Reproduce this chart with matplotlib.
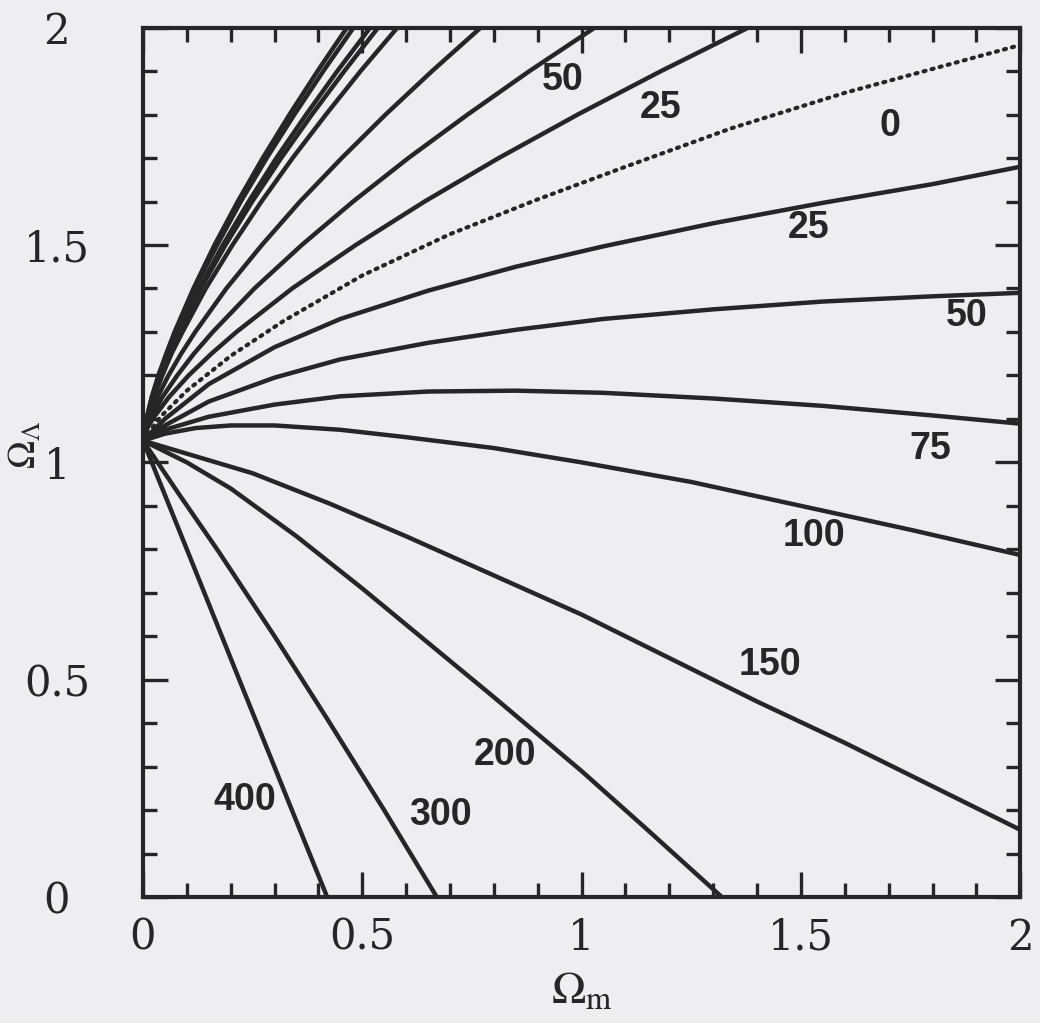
import matplotlib
matplotlib.use('Agg')
import matplotlib.pyplot as plt
from matplotlib.ticker import MultipleLocator

plt.rcParams['mathtext.fontset'] = 'stix'

# curves in the (Omega_m, Omega_Lambda) plane, all fanning out of (0, 1.05)
# labelled family below the dotted 0 curve
lo_25_x = [0, 0.05, 0.15, 0.3, 0.45, 0.65, 0.85, 1.05, 1.3, 1.55, 1.8, 2.0]
lo_25_y = [1.05, 1.10, 1.18, 1.265, 1.33, 1.395, 1.45, 1.497, 1.55, 1.597, 1.64, 1.68]
lo_50_x = [0, 0.05, 0.15, 0.3, 0.45, 0.65, 0.85, 1.05, 1.3, 1.55, 1.8, 2.0]
lo_50_y = [1.05, 1.085, 1.14, 1.195, 1.237, 1.275, 1.305, 1.33, 1.352, 1.37, 1.382, 1.39]
lo_75_x = [0, 0.05, 0.15, 0.3, 0.45, 0.65, 0.85, 1.05, 1.3, 1.55, 1.8, 2.0]
lo_75_y = [1.05, 1.075, 1.105, 1.133, 1.152, 1.163, 1.165, 1.16, 1.147, 1.13, 1.108, 1.089]
lo_100_x = [0, 0.05, 0.12, 0.2, 0.3, 0.45, 0.6, 0.8, 1.0, 1.25, 1.5, 1.75, 2.0]
lo_100_y = [1.05, 1.066, 1.079, 1.085, 1.085, 1.075, 1.058, 1.033, 1.0, 0.955, 0.9, 0.845, 0.787]
lo_150_x = [0, 0.1, 0.25, 0.426, 0.6, 0.8, 1.0, 1.2, 1.4, 1.6, 1.8, 2.0]
lo_150_y = [1.05, 1.02, 0.975, 0.905, 0.83, 0.74, 0.65, 0.55, 0.45, 0.355, 0.255, 0.155]
lo_200_x = [0, 0.1, 0.2, 0.35, 0.5, 0.65, 0.8, 1.0, 1.15, 1.32]
lo_200_y = [1.05, 1.0, 0.94, 0.83, 0.71, 0.585, 0.46, 0.29, 0.155, 0.0]
lo_300_x = [0, 0.08, 0.173, 0.3, 0.42, 0.55, 0.67]
lo_300_y = [1.05, 0.93, 0.794, 0.60, 0.41, 0.20, 0.0]
lo_400_x = [0, 0.1, 0.226, 0.33, 0.42]
lo_400_y = [1.05, 0.80, 0.484, 0.224, 0.0]

# the dotted zero curve
zero_x = [0, 0.04, 0.1, 0.2, 0.32, 0.5, 0.7, 0.9, 1.1, 1.34, 1.6, 1.8, 2.0]
zero_y = [1.05, 1.105, 1.165, 1.245, 1.325, 1.43, 1.525, 1.605, 1.68, 1.768, 1.85, 1.905, 1.96]

# family above the dotted curve, sampled at fixed Omega_Lambda
up_y = [1.05, 1.075, 1.10, 1.15, 1.20, 1.25, 1.30, 1.40, 1.50, 1.60, 1.70, 1.80, 1.90, 2.0]
up_25_x = [0, 0.008, 0.022, 0.059, 0.104, 0.156, 0.213, 0.340, 0.485, 0.642, 0.811, 0.991, 1.181, 1.38]
up_50_x = [0, 0.006, 0.017, 0.044, 0.078, 0.116, 0.159, 0.254, 0.362, 0.479, 0.605, 0.740, 0.881, 1.03]
up_75_x = [0, 0.005, 0.013, 0.033, 0.058, 0.087, 0.119, 0.190, 0.271, 0.358, 0.453, 0.553, 0.659, 0.77]
up_100_x = [0, 0.004, 0.009, 0.025, 0.044, 0.065, 0.090, 0.143, 0.204, 0.270, 0.341, 0.417, 0.496, 0.58]
up_150_x = [0, 0.003, 0.009, 0.023, 0.041, 0.061, 0.083, 0.132, 0.188, 0.249, 0.315, 0.385, 0.459, 0.536]
up_200_x = [0, 0.003, 0.008, 0.022, 0.039, 0.058, 0.080, 0.128, 0.182, 0.241, 0.304, 0.372, 0.443, 0.518]
up_300_x = [0, 0.003, 0.008, 0.020, 0.036, 0.054, 0.074, 0.118, 0.169, 0.223, 0.282, 0.345, 0.411, 0.48]
up_400_x = [0, 0.003, 0.008, 0.020, 0.035, 0.053, 0.072, 0.115, 0.163, 0.216, 0.273, 0.334, 0.398, 0.465]

# curve labels and where they sit
label_text = ['400', '300', '200', '150', '100', '75', '50', '25', '0', '25', '50']
label_x = [0.233, 0.677, 0.826, 1.43, 1.53, 1.795, 1.877, 1.517, 1.704, 1.179, 0.956]
label_y = [0.224, 0.19, 0.328, 0.535, 0.83, 1.03, 1.336, 1.539, 1.774, 1.815, 1.88]

bg = '#eeedf0'
ink = '#262626'

fig = plt.figure(figsize=(10.4, 10.23), dpi=100, facecolor=bg)
ax = fig.add_axes([0.1375, 0.123, 0.8435, 0.85])
ax.set_facecolor(bg)

lw = 3.2
for xs, ys in [(lo_25_x, lo_25_y), (lo_50_x, lo_50_y), (lo_75_x, lo_75_y),
               (lo_100_x, lo_100_y), (lo_150_x, lo_150_y), (lo_200_x, lo_200_y),
               (lo_300_x, lo_300_y), (lo_400_x, lo_400_y)]:
    ax.plot(xs, ys, color=ink, lw=lw, solid_capstyle='round', solid_joinstyle='round')

for xs in [up_25_x, up_50_x, up_75_x, up_100_x, up_150_x, up_200_x, up_300_x, up_400_x]:
    ax.plot(xs, up_y, color=ink, lw=lw, solid_joinstyle='round')

ax.plot(zero_x, zero_y, color=ink, lw=3.0, linestyle=(0, (0.5, 1.5)),
        dash_capstyle='round')

for t, x, y in zip(label_text, label_x, label_y):
    ax.text(x, y, t, ha='center', va='center', fontsize=27, color=ink,
            family='Liberation Sans', fontweight='bold')

ax.set_xlim(0, 2)
ax.set_ylim(0, 2)

ax.xaxis.set_major_locator(MultipleLocator(0.5))
ax.xaxis.set_minor_locator(MultipleLocator(0.1))
ax.yaxis.set_major_locator(MultipleLocator(0.5))
ax.yaxis.set_minor_locator(MultipleLocator(0.1))
ax.tick_params(which='both', direction='in', top=True, right=True, color=ink)
ax.tick_params(which='major', length=18, width=2.4)
ax.tick_params(which='minor', length=10, width=2.4)
ax.tick_params(axis='x', which='major', pad=14)
ax.tick_params(axis='y', which='major', pad=62)
ax.set_xticks([0, 0.5, 1, 1.5, 2])
ax.set_xticklabels(['0', '0.5', '1', '1.5', '2'])
ax.set_yticks([0, 0.5, 1, 1.5, 2])
ax.set_yticklabels(['0', '0.5', '1', '1.5', '2'])
for lab in ax.get_xticklabels() + ax.get_yticklabels():
    lab.set_family('DejaVu Serif')
    lab.set_fontsize(30)
    lab.set_color(ink)
for lab in ax.get_yticklabels():
    lab.set_ha('center')

for sp in ax.spines.values():
    sp.set_linewidth(3)
    sp.set_color(ink)

ax.set_xlabel(r'$\Omega_{\rm m}$', fontsize=33, color=ink)
ax.xaxis.set_label_coords(0.5, -0.082)
ax.set_ylabel(r'$\Omega_\Lambda$', fontsize=27, color=ink, va='center')
ax.yaxis.set_label_coords(-0.134, 0.52)

fig.savefig('out.png', dpi=100, facecolor=bg)
